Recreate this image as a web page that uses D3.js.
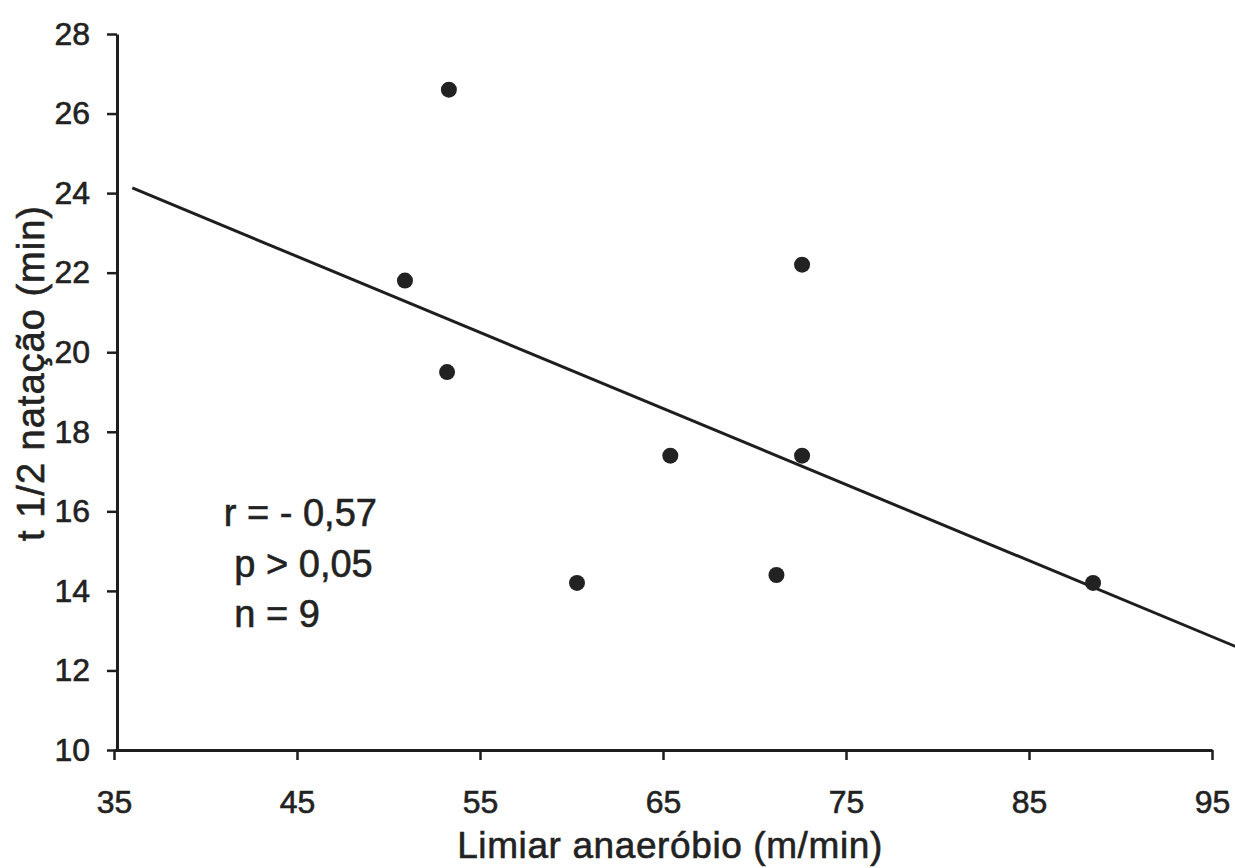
<!DOCTYPE html>
<html>
<head>
<meta charset="utf-8">
<script src="https://cdn.jsdelivr.net/npm/d3@7"></script>
<style>
  body { margin: 0; background: #fff; }
  text { font-family: "Liberation Sans", Arial, sans-serif; fill: #222; stroke: #222; stroke-width: 0.6px; }
</style>
</head>
<body>
<div id="my_dataviz"></div>
<script>
// data
var limiar = [53.3, 50.9, 53.2, 72.6, 60.3, 65.4, 72.6, 71.2, 88.5];   // x, m/min
var tMeia  = [26.6, 21.8, 19.5, 22.2, 14.2, 17.4, 17.4, 14.4, 14.2];   // y, min
var fitX = [36.0, 96.3];
var fitY = [24.13, 12.6];
var xTicks = [35, 45, 55, 65, 75, 85, 95];
var yTicks = [10, 12, 14, 16, 18, 20, 22, 24, 26, 28];
var statLines = ["r = - 0,57", " p > 0,05", " n = 9"];

// set the dimensions and margins of the graph
var margin = {top: 34, right: 23, bottom: 118, left: 114},
    width = 1235 - margin.left - margin.right,
    height = 868 - margin.top - margin.bottom;

var svg = d3.select("#my_dataviz")
  .append("svg")
    .attr("width", width + margin.left + margin.right)
    .attr("height", height + margin.top + margin.bottom)
  .append("g")
    .attr("transform", "translate(" + margin.left + "," + margin.top + ")");

// X axis
var x = d3.scaleLinear()
  .domain([35, 95])
  .range([0, width]);
var xAxis = svg.append("g")
  .attr("transform", "translate(0," + height + ")")
  .call(d3.axisBottom(x).tickValues(xTicks).tickSize(10).tickSizeOuter(0).tickPadding(30));

// Y axis
var y = d3.scaleLinear()
  .domain([10, 28])
  .range([height, 0]);
var yAxis = svg.append("g")
  .attr("transform", "translate(3,0)")
  .call(d3.axisLeft(y).tickValues(yTicks).tickSize(10).tickSizeOuter(0).tickPadding(17));

[xAxis, yAxis].forEach(function(a) {
  a.select(".domain").attr("stroke", "#1e1e1e").attr("stroke-width", 3);
  a.selectAll(".tick line").attr("stroke", "#1e1e1e").attr("stroke-width", 2.5);
  a.selectAll(".tick text").style("font-size", "32px").attr("fill", "#222");
});

// regression line
svg.append("line")
  .attr("x1", x(fitX[0])).attr("y1", y(fitY[0]))
  .attr("x2", x(fitX[1])).attr("y2", y(fitY[1]))
  .attr("stroke", "#1e1e1e")
  .attr("stroke-width", 3);

// points
svg.append("g")
  .selectAll("circle")
  .data(limiar)
  .enter().append("circle")
    .attr("cx", function(d) { return x(d); })
    .attr("cy", function(d, i) { return y(tMeia[i]); })
    .attr("r", 8)
    .attr("fill", "#222");

// r, p, n
svg.append("g")
  .selectAll("text")
  .data(statLines)
  .enter().append("text")
    .attr("x", x(41.0))
    .attr("y", function(d, i) { return y(15.62) + i * 50.5; })
    .style("font-size", "38px")
    .style("white-space", "pre")
    .text(function(d) { return d; });

// axis titles
svg.append("text")
  .attr("x", 670 - margin.left)
  .attr("y", 858 - margin.top)
  .attr("text-anchor", "middle")
  .style("font-size", "37px")
  .style("letter-spacing", "0.6px")
  .text("Limiar anaeróbio (m/min)");

svg.append("text")
  .attr("transform", "translate(" + (44 - margin.left) + "," + (373 - margin.top) + ") rotate(-90)")
  .attr("text-anchor", "middle")
  .style("font-size", "38px")
  .style("letter-spacing", "1px")
  .text("t 1/2 natação (min)");
</script>
</body>
</html>
